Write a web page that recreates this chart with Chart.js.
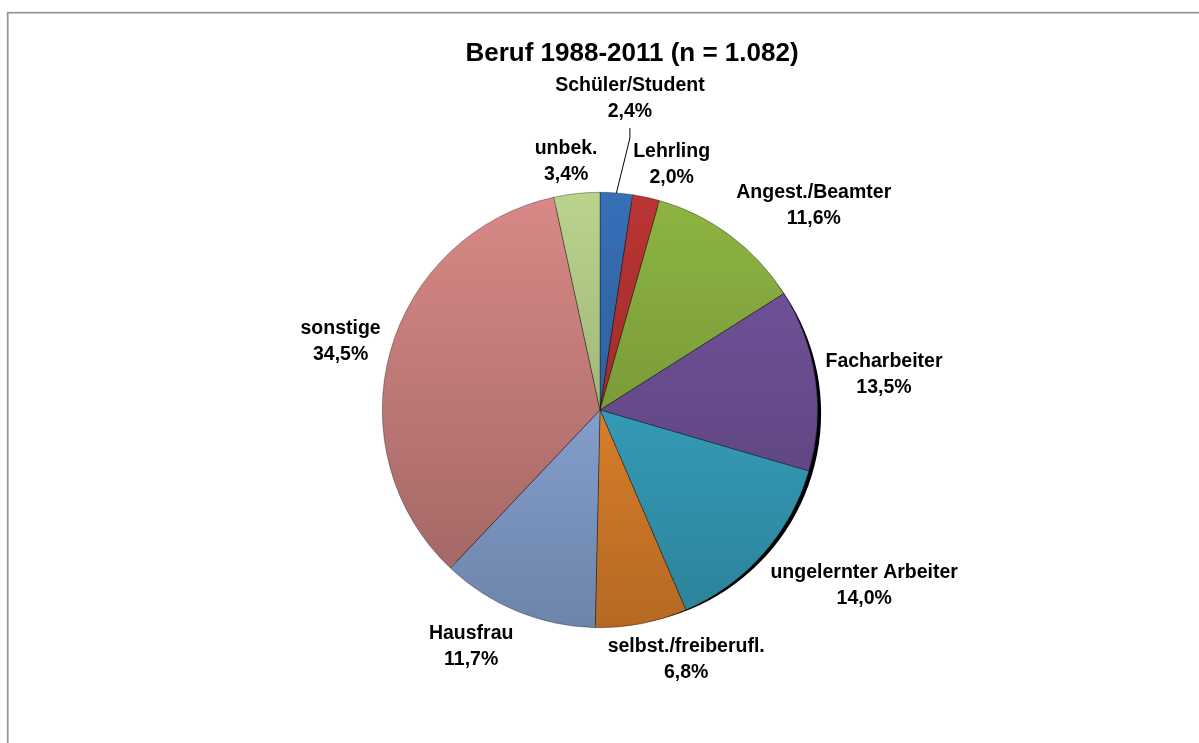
<!DOCTYPE html>
<html><head><meta charset="utf-8">
<script src="https://cdn.jsdelivr.net/npm/chart.js@4.4.1/dist/chart.umd.min.js"></script>
<style>html,body{margin:0;padding:0;background:#fff;overflow:hidden}canvas{display:block}</style>
</head><body>
<canvas id="c" width="1199" height="743"></canvas>
<script>
// ---- data ----
const titleText = 'Beruf 1988-2011 (n = 1.082)';
const categories = ['Schüler/Student','Lehrling','Angest./Beamter','Facharbeiter','ungelernter Arbeiter','selbst./freiberufl.','Hausfrau','sonstige','unbek.'];
const shares = [2.4, 2.0, 11.6, 13.5, 14.0, 6.8, 11.7, 34.5, 3.4];
// ---- style ----
const sliceColors = ['#3670B6','#BA3533','#8EB543','#7656A0','#3DB3D3','#FA9230','#98B8EC','#D98987','#BAD48E'];
const leaderSlices = [0];
const FONT = '"Liberation Sans", Arial, sans-serif';

function fmtPct(v){ return v.toFixed(1).replace('.', ',') + '%'; }
function shade(hex, f){
  const n = parseInt(hex.slice(1),16);
  const r = Math.round(((n>>16)&255)*f), g = Math.round(((n>>8)&255)*f), b = Math.round((n&255)*f);
  return 'rgb('+r+','+g+','+b+')';
}
function sliceFill(c){
  const chart = c.chart, a = chart.chartArea;
  const base = sliceColors[c.dataIndex];
  if(!a) return base;
  const g = chart.ctx.createLinearGradient(0, a.top, 0, a.bottom);
  g.addColorStop(0, base);
  g.addColorStop(1, shade(base, 0.72));
  return g;
}

const framePlugin = {
  id:'frame',
  beforeDraw(chart){
    const ctx = chart.ctx;
    ctx.save();
    ctx.fillStyle = '#fff';
    ctx.fillRect(0,0,chart.width,chart.height);
    ctx.strokeStyle = '#969696';
    ctx.lineWidth = 1.8;
    ctx.strokeRect(7.7, 12.7, chart.width + 50, chart.height + 50);
    ctx.restore();
  }
};

const shadowPlugin = {
  id:'shadow',
  beforeDatasetsDraw(chart){
    const arc = chart.getDatasetMeta(0).data[0];
    if(!arc) return;
    const ctx = chart.ctx;
    ctx.save();
    ctx.fillStyle = '#000';
    ctx.beginPath();
    ctx.arc(arc.x + 8.8, arc.y + 3.2, arc.outerRadius - 5.4, 0, Math.PI*2);
    ctx.fill();
    ctx.restore();
  }
};

const textPlugin = {
  id:'texts',
  afterDatasetsDraw(chart){
    const ctx = chart.ctx;
    ctx.save();
    ctx.fillStyle = '#000';
    ctx.textAlign = 'center';
    ctx.textBaseline = 'alphabetic';
    // title
    ctx.font = 'bold 26px ' + FONT;
    ctx.fillText(titleText, 632, 61);
    // slice labels
    ctx.font = 'bold 19.5px ' + FONT;
    const meta = chart.getDatasetMeta(0);
    meta.data.forEach((arc, i) => {
      const p = arc.getProps(['x','y','startAngle','endAngle','outerRadius'], true);
      const mid = (p.startAngle + p.endAngle) / 2;
      const ux = Math.cos(mid), uy = Math.sin(mid);
      const lines = [categories[i], fmtPct(shares[i])];
      const w = Math.max(...lines.map(l => ctx.measureText(l).width));
      const hw = w/2, hh = 24;
      const leader = leaderSlices.includes(i);
      const r = p.outerRadius + 10 + (leader ? 62 : 0);
      const px = p.x + ux*r, py = p.y + uy*r;
      const fx = Math.min(1, Math.abs(ux)/0.35) * (leader ? 0.5 : 1);
      const fy = Math.min(1, Math.abs(uy)/0.7);
      const cx = px + Math.sign(ux)*fx*hw, cy = py + Math.sign(uy)*fy*hh;
      ctx.fillText(lines[0], cx, cy - 6);
      ctx.fillText(lines[1], cx, cy + 20);
      if(leader){
        ctx.strokeStyle = '#000';
        ctx.lineWidth = 1;
        ctx.beginPath();
        ctx.moveTo(cx, cy + 31);
        ctx.lineTo(cx, cy + 41);
        ctx.lineTo(p.x + ux*p.outerRadius, p.y + uy*p.outerRadius);
        ctx.stroke();
      }
    });
    ctx.restore();
  }
};

new Chart(document.getElementById('c'), {
  type:'pie',
  data:{
    labels: categories,
    datasets:[{
      data: shares,
      backgroundColor: sliceFill,
      borderColor: 'rgba(0,0,0,0.55)',
      borderWidth: 0.6
    }]
  },
  options:{
    responsive:false,
    animation:false,
    devicePixelRatio:1,
    layout:{padding:{top:192,bottom:115,left:382,right:381}},
    plugins:{legend:{display:false}, tooltip:{enabled:false}, title:{display:false}}
  },
  plugins:[framePlugin, shadowPlugin, textPlugin]
});
</script>
</body></html>
